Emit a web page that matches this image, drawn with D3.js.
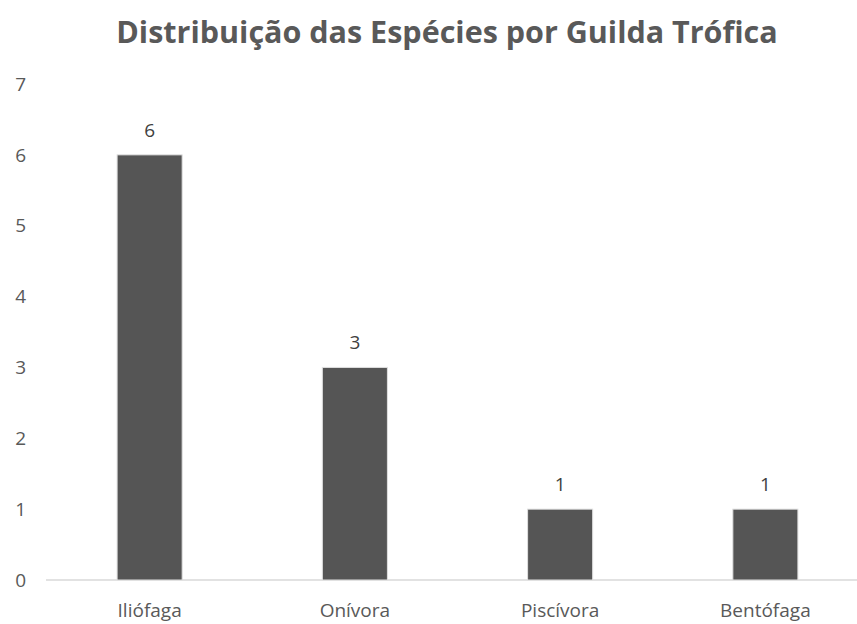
<!DOCTYPE html>
<html><head><meta charset="utf-8">
<script src="https://cdn.jsdelivr.net/npm/d3@7"></script>
<style>body{margin:0;background:#fff}svg{display:block}</style>
</head><body>
<svg id="c" width="857" height="624"></svg>
<script>
const categories = ["Iliófaga", "Onívora", "Piscívora", "Bentófaga"];
const values = [6, 3, 1, 1];
const yTicks = [0, 1, 2, 3, 4, 5, 6, 7];
const title = "Distribuição das Espécies por Guilda Trófica";

const svg = d3.select("#c");
const font = "'Open Sans', 'Noto Sans', sans-serif";
const x = d3.scaleBand().domain(categories).range([47, 868]).paddingInner(0.683).paddingOuter(0.3415);
const y = d3.scaleLinear().domain([0, 7]).range([580, 84]);

svg.append("text").attr("x", 447).attr("y", 43).attr("text-anchor", "middle")
  .attr("font-family", font).attr("font-weight", 700).attr("font-size", 30.5)
  .attr("fill", "#595959").text(title);

svg.append("g").selectAll("text").data(yTicks).join("text")
  .attr("x", 26).attr("y", d => y(d)).attr("dy", "0.35em").attr("text-anchor", "end")
  .attr("font-family", font).attr("font-size", 19).attr("fill", "#595959").text(d => d);

svg.append("line").attr("x1", 46).attr("x2", 857).attr("y1", y(0)).attr("y2", y(0))
  .attr("stroke", "#d9d9d9").attr("stroke-width", 1.5);

svg.append("g").selectAll("rect").data(values).join("rect")
  .attr("x", (d, i) => x(categories[i])).attr("width", x.bandwidth())
  .attr("y", d => y(d)).attr("height", d => y(0) - y(d))
  .attr("fill", "#555555").attr("stroke", "#e0e0e0").attr("stroke-width", 1);

svg.append("g").selectAll("text").data(values).join("text")
  .attr("x", (d, i) => x(categories[i]) + x.bandwidth() / 2).attr("y", d => y(d) - 18)
  .attr("text-anchor", "middle").attr("font-family", font).attr("font-size", 19)
  .attr("fill", "#404040").text(d => d);

svg.append("g").selectAll("text").data(categories).join("text")
  .attr("x", d => x(d) + x.bandwidth() / 2).attr("y", 617).attr("text-anchor", "middle")
  .attr("font-family", font).attr("font-size", 19).attr("fill", "#595959").text(d => d);
</script>
</body></html>
